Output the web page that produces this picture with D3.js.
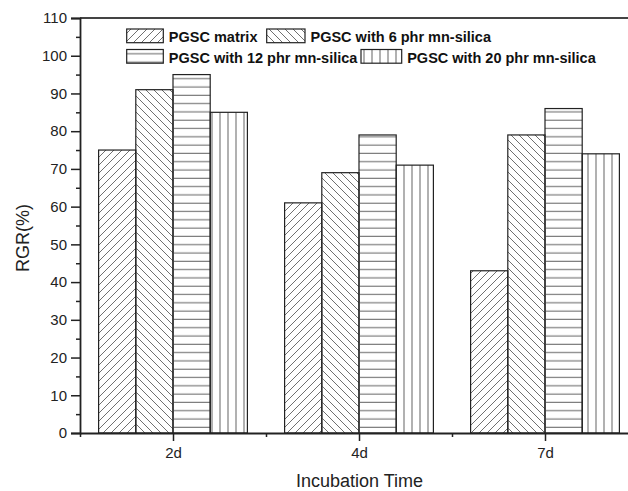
<!DOCTYPE html>
<html><head><meta charset="utf-8">
<script src="https://cdn.jsdelivr.net/npm/d3@7/dist/d3.min.js"></script>
<style>body{margin:0;background:#fff}svg{display:block}</style>
</head><body>
<svg id="chart" width="628" height="491"></svg>
<script>
const categories = ["2d", "4d", "7d"];
const seriesNames = ["PGSC matrix", "PGSC with 6 phr mn-silica", "PGSC with 12 phr mn-silica", "PGSC with 20 phr mn-silica"];
const matrixValues = [75, 61, 43];
const phr6Values = [91, 69, 79];
const phr12Values = [95, 79, 86];
const phr20Values = [85, 71, 74];
const yTicks = [0, 10, 20, 30, 40, 50, 60, 70, 80, 90, 100, 110];
const patternIds = ["p-fwd", "p-back", "p-horiz", "p-vert"];

const series = [matrixValues, phr6Values, phr12Values, phr20Values];
const svg = d3.select("#chart");
const mLeft = 80, mRight = 638, mTop = 18, mBottom = 433;

const x = d3.scaleLinear().domain([0.5, 3.5]).range([mLeft, mRight]);
const y = d3.scaleLinear().domain([0, 110]).range([mBottom, mTop]);
const step = x(2) - x(1);
const barW = step * 0.2;

// patterns
const defs = svg.append("defs");
const hatch = "#707070";
const s = 8;
let p = defs.append("pattern").attr("id", "p-fwd").attr("patternUnits", "userSpaceOnUse").attr("width", s).attr("height", s);
p.append("path").attr("d", `M0,${s} L${s},0 M${-s/2},${s/2} L${s/2},${-s/2} M${s/2},${s*1.5} L${s*1.5},${s/2}`).attr("stroke", hatch).attr("stroke-width", 1);
p = defs.append("pattern").attr("id", "p-back").attr("patternUnits", "userSpaceOnUse").attr("width", s).attr("height", s);
p.append("path").attr("d", `M0,0 L${s},${s} M${-s/2},${s/2} L${s/2},${s*1.5} M${s/2},${-s/2} L${s*1.5},${s/2}`).attr("stroke", hatch).attr("stroke-width", 1);
p = defs.append("pattern").attr("id", "p-horiz").attr("patternUnits", "userSpaceOnUse").attr("width", s).attr("height", 8.3);
p.append("line").attr("x1", 0).attr("x2", s).attr("y1", 4).attr("y2", 4).attr("stroke", hatch).attr("stroke-width", 1.1);
p = defs.append("pattern").attr("id", "p-vert").attr("patternUnits", "userSpaceOnUse").attr("width", 8).attr("height", s);
p.append("line").attr("x1", 4).attr("x2", 4).attr("y1", 0).attr("y2", s).attr("stroke", hatch).attr("stroke-width", 1.1);

// top frame line
svg.append("line").attr("x1", mLeft).attr("x2", mRight).attr("y1", y(110)).attr("y2", y(110))
  .attr("stroke", "#444").attr("stroke-width", 2);

// bars
series.forEach((vals, si) => {
  svg.append("g").selectAll("rect").data(vals).join("rect")
    .attr("x", (d, i) => x(i + 1) + (si - 2) * barW)
    .attr("y", d => y(d))
    .attr("width", barW)
    .attr("height", d => y(0) - y(d))
    .attr("fill", `url(#${patternIds[si]})`)
    .attr("stroke", "#222").attr("stroke-width", 1.2);
});

// y axis
const yAxis = svg.append("g").attr("transform", `translate(${mLeft},0)`)
  .call(d3.axisLeft(y).tickValues(yTicks).tickSize(9).tickPadding(4));
yAxis.select(".domain").attr("stroke", "#222").attr("stroke-width", 1.8);
yAxis.selectAll(".tick line").attr("stroke", "#222").attr("stroke-width", 1.5);
yAxis.selectAll("text").attr("font-family", "Liberation Sans, Arial, sans-serif").attr("font-size", 15).attr("fill", "#222");
const yMinor = svg.append("g").attr("transform", `translate(${mLeft},0)`)
  .call(d3.axisLeft(y).tickValues(yTicks.slice(0, -1).map(v => v + 5)).tickSize(4).tickFormat(""));
yMinor.select(".domain").remove();
yMinor.selectAll(".tick line").attr("stroke", "#222").attr("stroke-width", 1.5);

// x axis
const xAxis = svg.append("g").attr("transform", `translate(0,${mBottom})`)
  .call(d3.axisBottom(x).tickValues([1, 2, 3]).tickFormat((d) => categories[d - 1]).tickSize(8).tickPadding(6).tickSizeOuter(0));
xAxis.select(".domain").attr("stroke", "#222").attr("stroke-width", 1.8);
xAxis.selectAll(".tick line").attr("stroke", "#222").attr("stroke-width", 1.5);
xAxis.selectAll("text").attr("font-family", "Liberation Sans, Arial, sans-serif").attr("font-size", 15).attr("fill", "#222");
const xMinor = svg.append("g").attr("transform", `translate(0,${mBottom})`)
  .call(d3.axisBottom(x).tickValues([0.5, 1.5, 2.5]).tickSize(4).tickFormat(""));
xMinor.select(".domain").remove();
xMinor.selectAll(".tick line").attr("stroke", "#222").attr("stroke-width", 1.5);

// axis titles
svg.append("text").attr("x", 359.5).attr("y", 487).attr("text-anchor", "middle")
  .attr("font-family", "Liberation Sans, Arial, sans-serif").attr("font-size", 18).attr("fill", "#222")
  .text("Incubation Time");
svg.append("text").attr("transform", "translate(29,238) rotate(-90)").attr("text-anchor", "middle")
  .attr("font-family", "Liberation Sans, Arial, sans-serif").attr("font-size", 18).attr("fill", "#222")
  .text("RGR(%)");

// legend
const legendPos = [[126.7, 29], [266.7, 29], [126.7, 49.5], [361, 49.5]];
const leg = svg.append("g");
seriesNames.forEach((name, i) => {
  const [lx, ly] = legendPos[i];
  const sw = i === 1 ? 38.3 : (i === 3 ? 40.7 : 36.6);
  leg.append("rect").attr("x", lx).attr("y", ly).attr("width", sw).attr("height", 13.7)
    .attr("fill", `url(#${patternIds[i]})`).attr("stroke", "#222").attr("stroke-width", 1.2);
  leg.append("text").attr("x", lx + sw + 5.5).attr("y", ly + 13)
    .attr("font-family", "Liberation Sans, Arial, sans-serif").attr("font-weight", "bold")
    .attr("font-size", 14.5).attr("fill", "#111").text(name);
});
</script>
</body></html>
